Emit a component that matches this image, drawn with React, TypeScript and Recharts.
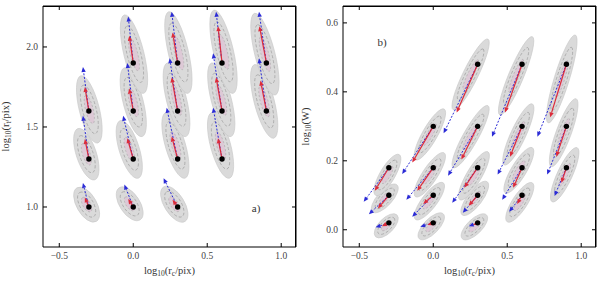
import React from "react";
import {
  ScatterChart,
  Scatter,
  XAxis,
  YAxis,
  ReferenceLine,
  ReferenceDot,
} from "recharts";

type P = [number, number];

// panel a) : grid of models, log10(rc) vs log10(rt)
const aCentres: P[] = [
  [-0.3, 1.0], [-0.3, 1.3], [-0.3, 1.6],
  [0, 1.0], [0, 1.3], [0, 1.6], [0, 1.9],
  [0.3, 1.0], [0.3, 1.3], [0.3, 1.6], [0.3, 1.9],
  [0.6, 1.3], [0.6, 1.6], [0.6, 1.9],
  [0.9, 1.6], [0.9, 1.9],
];
const aRedTips: P[] = [
  [-0.327, 1.06], [-0.327, 1.425], [-0.327, 1.75],
  [-0.034, 1.05], [-0.04, 1.43], [-0.027, 1.74], [-0.027, 2.07],
  [0.266, 1.045], [0.26, 1.44], [0.26, 1.81], [0.266, 2.09],
  [0.573, 1.43], [0.56, 1.81], [0.573, 2.13],
  [0.86, 1.79], [0.853, 2.13],
];
const aBlueTips: P[] = [
  [-0.34, 1.15], [-0.34, 1.57], [-0.34, 1.875],
  [-0.06, 1.14], [-0.068, 1.57], [-0.04, 1.9], [-0.034, 2.19],
  [0.205, 1.18], [0.226, 1.62], [0.246, 1.93], [0.26, 2.22],
  [0.54, 1.62], [0.54, 1.96], [0.56, 2.22],
  [0.85, 1.93], [0.85, 2.22],
];
const aEllUpper: P[] = [
  [-0.38, 1.12], [-0.374, 1.49], [-0.354, 1.82],
  [-0.095, 1.12], [-0.088, 1.54], [-0.06, 1.87], [-0.06, 2.2],
  [0.205, 1.125], [0.22, 1.59], [0.23, 1.9], [0.24, 2.22],
  [0.53, 1.59], [0.53, 1.9], [0.545, 2.23],
  [0.82, 1.89], [0.82, 2.21],
];
const aEllLower: P[] = [
  [-0.25, 0.91], [-0.26, 1.17], [-0.24, 1.4],
  [0.047, 0.92], [0.034, 1.18], [0.06, 1.44], [0.07, 1.71],
  [0.35, 0.91], [0.35, 1.18], [0.355, 1.44], [0.37, 1.71],
  [0.65, 1.18], [0.66, 1.44], [0.675, 1.71],
  [0.95, 1.43], [0.96, 1.7],
];

// panel b) : log10(rc) vs log10(W)
const bCentres: P[] = [
  [-0.3, 0.02], [-0.3, 0.1], [-0.3, 0.18],
  [0, 0.02], [0, 0.1], [0, 0.18], [0, 0.3],
  [0.3, 0.02], [0.3, 0.1], [0.3, 0.18], [0.3, 0.3], [0.3, 0.48],
  [0.6, 0.1], [0.6, 0.18], [0.6, 0.3], [0.6, 0.48],
  [0.9, 0.18], [0.9, 0.3], [0.9, 0.48],
];
const bRedTips: P[] = [
  [-0.347, 0.01], [-0.374, 0.062], [-0.395, 0.113],
  [-0.04, 0.014], [-0.068, 0.075], [-0.108, 0.113], [-0.142, 0.195],
  [0.27, 0.014], [0.24, 0.07], [0.21, 0.122], [0.19, 0.204], [0.158, 0.34],
  [0.567, 0.075], [0.54, 0.122], [0.519, 0.212], [0.485, 0.34],
  [0.866, 0.136], [0.832, 0.212], [0.79, 0.326],
];
const bBlueTips: P[] = [
  [-0.39, 0.007], [-0.435, 0.045], [-0.47, 0.081],
  [-0.088, 0.009], [-0.142, 0.038], [-0.182, 0.087], [-0.21, 0.162],
  [0.24, 0.01], [0.2, 0.049], [0.128, 0.078], [0.1, 0.157], [0.07, 0.28],
  [0.513, 0.052], [0.466, 0.087], [0.435, 0.16], [0.397, 0.27],
  [0.82, 0.098], [0.77, 0.16], [0.704, 0.27],
];
const bEllUpper: P[] = [
  [-0.245, 0.043], [-0.245, 0.13], [-0.23, 0.218],
  [0.068, 0.046], [0.068, 0.136], [0.074, 0.223], [0.074, 0.35],
  [0.36, 0.043], [0.365, 0.139], [0.37, 0.226], [0.37, 0.36], [0.37, 0.553],
  [0.67, 0.136], [0.67, 0.238], [0.67, 0.365], [0.67, 0.56],
  [0.973, 0.238], [0.966, 0.38], [0.96, 0.565],
];
const bEllLower: P[] = [
  [-0.39, -0.02], [-0.41, 0.052], [-0.39, 0.1],
  [-0.095, -0.026], [-0.12, 0.03], [-0.12, 0.096], [-0.12, 0.203],
  [0.196, -0.026], [0.196, 0.043], [0.18, 0.087], [0.135, 0.18], [0.135, 0.348],
  [0.5, 0.023], [0.487, 0.107], [0.48, 0.188], [0.45, 0.333],
  [0.804, 0.081], [0.797, 0.183], [0.777, 0.31],
];

const xTicks = [-0.5, 0, 0.5, 1.0];
const aYTicks = [1.0, 1.5, 2.0];
const bYTicks = [0, 0.2, 0.4, 0.6];

const FONT = "Liberation Serif, DejaVu Serif, serif";
const RED = "#dc2b3a";
const BLUE = "#2b2bd6";

const fmt = (v: number) => (v < 0 ? "\u2212" + Math.abs(v).toFixed(1) : v.toFixed(1));

const BottomTick = (p: any) => (
  <g>
    <line x1={p.x} y1={p.y} x2={p.x} y2={p.y - 4} stroke="#000" />
    <text x={p.x} y={p.y + 12} textAnchor="middle" fontSize={9.5} fill="#444" style={{ fontFamily: FONT }}>
      {fmt(p.payload.value)}
    </text>
  </g>
);
const LeftTick = (p: any) => (
  <g>
    <line x1={p.x} y1={p.y} x2={p.x + 4} y2={p.y} stroke="#000" />
    <text x={p.x - 5} y={p.y + 3.5} textAnchor="end" fontSize={9.5} fill="#444" style={{ fontFamily: FONT }}>
      {fmt(p.payload.value)}
    </text>
  </g>
);
// mirrored inward ticks on the top and right edges of the frame
const TopTickMark = (p: any) => <line x1={p.cx} y1={p.cy} x2={p.cx} y2={p.cy + 4} stroke="#000" />;
const RightTickMark = (p: any) => <line x1={p.cx} y1={p.cy} x2={p.cx - 4} y2={p.cy} stroke="#000" />;
const NoMark = () => <g />;

function Ellipse(p: any) {
  const { x1, y1, x2, y2, w } = p;
  if (x1 == null) return null;
  const cx = (x1 + x2) / 2;
  const cy = (y1 + y2) / 2;
  const len = Math.hypot(x2 - x1, y2 - y1) / 2;
  const ang = (Math.atan2(y2 - y1, x2 - x1) * 180) / Math.PI;
  return (
    <g transform={`translate(${cx},${cy}) rotate(${ang})`}>
      <ellipse rx={len} ry={w / 2} fill="#dadada" stroke="#c8c8c8" strokeWidth={0.6} />
      <ellipse rx={len * 0.72} ry={w * 0.34} fill="none" stroke="#a0a0a0" strokeWidth={0.7} strokeDasharray="3 2" />
      <ellipse rx={len * 0.42} ry={w * 0.19} fill="rgba(226,170,205,0.35)" stroke="#aaa" strokeWidth={0.6} strokeDasharray="2 2" />
    </g>
  );
}

function Arrow(p: any) {
  const { x1, y1, x2, y2, color, dash, sw } = p;
  if (x1 == null) return null;
  const a = Math.atan2(y2 - y1, x2 - x1);
  const L = 5;
  const W = 2.2;
  const bx = x2 - L * Math.cos(a);
  const by = y2 - L * Math.sin(a);
  const pts = `${x2},${y2} ${bx - W * Math.sin(a)},${by + W * Math.cos(a)} ${bx + W * Math.sin(a)},${by - W * Math.cos(a)}`;
  return (
    <g>
      <line x1={x1} y1={y1} x2={bx} y2={by} stroke={color} strokeWidth={sw} strokeDasharray={dash} />
      <polygon points={pts} fill={color} />
    </g>
  );
}

function Title({ x, y, rotate, parts }: { x: number; y: number; rotate?: boolean; parts: [string, boolean][] }) {
  return (
    <text
      x={x}
      y={y}
      textAnchor="middle"
      fontSize={10.5}
      fill="#333"
      style={{ fontFamily: FONT }}
      transform={rotate ? `rotate(-90 ${x} ${y})` : undefined}
    >
      {parts.map(([t, sub], i) => (
        <tspan key={i} baselineShift={sub ? "-25%" : undefined} fontSize={sub ? 7.5 : undefined}>
          {t}
        </tspan>
      ))}
    </text>
  );
}

type PanelProps = {
  centres: P[];
  red: P[];
  blue: P[];
  upper: P[];
  lower: P[];
  yDomain: [number, number];
  yTicks: number[];
  yTitle: [string, boolean][];
  tag: string;
  tagAt: P;
  ellW: number;
};

const xTitle: [string, boolean][] = [["log", false], ["10", true], ["(r", false], ["c", true], ["/pix)", false]];
const xDomain: [number, number] = [-0.61, 1.1];

function Panel(props: PanelProps) {
  const { centres, red, blue, upper, lower, yDomain, yTicks, yTitle, tag, tagAt, ellW } = props;
  const pts = centres.map(([x, y]) => ({ x, y }));
  const [xLo, xHi] = xDomain;
  const [yLo, yHi] = yDomain;
  // top and right sides of the box, and their tick positions
  const frame = [{ x: xLo, y: yHi }, { x: xHi, y: yHi }, { x: xHi, y: yLo }];
  const topTicks = xTicks.map((t) => ({ x: t, y: yHi }));
  const rightTicks = yTicks.map((t) => ({ x: xHi, y: t }));
  return (
    <div style={{ position: "relative", width: 300, height: 283, flex: "none" }}>
      <ScatterChart width={300} height={283} margin={{ top: 6, right: 4, bottom: 0, left: 0 }}>
        <XAxis
          type="number"
          dataKey="x"
          domain={xDomain}
          ticks={xTicks}
          height={36}
          tickSize={0}
          tickMargin={0}
          tick={BottomTick}
          axisLine={{ stroke: "#000" }}
          label={{
            content: (l: any) => (
              <Title x={l.viewBox.x + l.viewBox.width / 2} y={l.viewBox.y + 27} parts={xTitle} />
            ),
          }}
        />
        <YAxis
          type="number"
          dataKey="y"
          domain={yDomain}
          ticks={yTicks}
          width={43}
          tickSize={0}
          tickMargin={0}
          tick={LeftTick}
          axisLine={{ stroke: "#000" }}
          label={{
            content: (l: any) => (
              <Title x={9} y={l.viewBox.y + l.viewBox.height / 2} rotate parts={yTitle} />
            ),
          }}
        />
        {centres.map((_, i) => (
          <ReferenceLine
            key={"e" + i}
            ifOverflow="visible"
            segment={[
              { x: lower[i][0], y: lower[i][1] },
              { x: upper[i][0], y: upper[i][1] },
            ]}
            shape={(p: any) => <Ellipse {...p} w={ellW} />}
          />
        ))}
        {centres.map((c, i) => (
          <ReferenceLine
            key={"b" + i}
            ifOverflow="visible"
            segment={[
              { x: c[0], y: c[1] },
              { x: blue[i][0], y: blue[i][1] },
            ]}
            shape={(p: any) => <Arrow {...p} color={BLUE} dash="2 1.6" sw={1} />}
          />
        ))}
        {centres.map((c, i) => (
          <ReferenceLine
            key={"r" + i}
            ifOverflow="visible"
            segment={[
              { x: c[0], y: c[1] },
              { x: red[i][0], y: red[i][1] },
            ]}
            shape={(p: any) => <Arrow {...p} color={RED} sw={1.2} />}
          />
        ))}
        <ReferenceDot
          x={tagAt[0]}
          y={tagAt[1]}
          r={0}
          fill="none"
          stroke="none"
          ifOverflow="visible"
          label={{ value: tag, position: "center", fontSize: 11, fill: "#333", fontFamily: FONT }}
        />
        <Scatter
          data={frame}
          isAnimationActive={false}
          line={{ stroke: "#000", strokeWidth: 1 }}
          shape={NoMark}
        />
        <Scatter data={topTicks} isAnimationActive={false} shape={TopTickMark} />
        <Scatter data={rightTicks} isAnimationActive={false} shape={RightTickMark} />
        <Scatter
          data={pts}
          isAnimationActive={false}
          shape={(p: any) => <circle cx={p.cx} cy={p.cy} r={2.7} fill="#000" />}
        />
      </ScatterChart>
      {/* top and right sides of the plot box */}
      <div
        style={{
          position: "absolute",
          left: 43,
          top: 6,
          width: 253,
          height: 241,
          boxSizing: "border-box",
          borderTop: "1px solid #000",
          borderRight: "1px solid #000",
          pointerEvents: "none",
        }}
      />
    </div>
  );
}

export default function App() {
  return (
    <div style={{ position: "absolute", left: 0, top: 0, width: 600, height: 283, background: "#fff", display: "flex" }}>
      <Panel
        centres={aCentres}
        red={aRedTips}
        blue={aBlueTips}
        upper={aEllUpper}
        lower={aEllLower}
        yDomain={[0.75, 2.256]}
        yTicks={aYTicks}
        yTitle={[["log", false], ["10", true], ["(r", false], ["t", true], ["/pix)", false]]}
        tag="a)"
        tagAt={[0.83, 0.99]}
        ellW={20}
      />
      <Panel
        centres={bCentres}
        red={bRedTips}
        blue={bBlueTips}
        upper={bEllUpper}
        lower={bEllLower}
        yDomain={[-0.05, 0.649]}
        yTicks={bYTicks}
        yTitle={[["log", false], ["10", true], ["(W)", false]]}
        tag="b)"
        tagAt={[-0.345, 0.545]}
        ellW={15}
      />
    </div>
  );
}
